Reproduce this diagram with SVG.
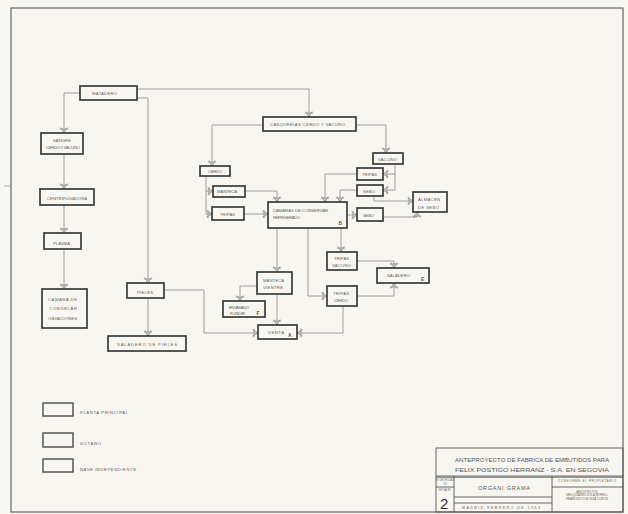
<svg xmlns="http://www.w3.org/2000/svg" width="628" height="514" viewBox="0 0 628 514">
<style>
.n{fill:none;stroke:#3a3a3a;stroke-width:1.7}
.lg{fill:none;stroke:#4a4a4a;stroke-width:1.4}
.c{fill:none;stroke:#8a8a8a;stroke-width:0.8}
.t{font-family:"Liberation Sans",Arial,sans-serif;font-size:4.2px;fill:#606060;text-anchor:start}
.L{font-family:"Liberation Sans",Arial,sans-serif;font-size:6px;fill:#555}
.tb{fill:none;stroke:#555;stroke-width:0.9}
.s{font-family:"Liberation Sans",Arial,sans-serif;font-size:3px;fill:#666}
</style>
<defs>
<marker id="a" viewBox="-7 -5 8 10" refX="0" refY="0" markerWidth="8" markerHeight="10" markerUnits="userSpaceOnUse" orient="auto">
<path d="M-5.5,-3.2 L0,0 L-5.5,3.2 M-4,-4.2 L-4,4.2" fill="none" stroke="#777" stroke-width="0.7"/>
</marker>
</defs>
<rect x="0" y="0" width="628" height="514" fill="#f8f6f1"/>
<rect x="11" y="8" width="612" height="504" fill="none" stroke="#666" stroke-width="1.2"/>
<line x1="4" y1="186" x2="11" y2="186" stroke="#999" stroke-width="0.8"/>

<g id="connectors">
<path class="c" marker-end="url(#a)" d="M80,93 H64 V133"/>
<path class="c" marker-end="url(#a)" d="M137,89 H309 V117"/>
<path class="c" marker-end="url(#a)" d="M137,98 H148 V283"/>
<path class="c" marker-end="url(#a)" d="M64,154 V189"/>
<path class="c" marker-end="url(#a)" d="M64,205 V233"/>
<path class="c" marker-end="url(#a)" d="M64,249 V289"/>
<path class="c" marker-end="url(#a)" d="M148,298 V336"/>
<path class="c" marker-end="url(#a)" d="M164,290 H204 V333 H258"/>
<path class="c" marker-end="url(#a)" d="M263,125 H212 V166"/>
<path class="c" marker-end="url(#a)" d="M356,125 H386 V153"/>
<path class="c" marker-end="url(#a)" d="M206,176 V214 H212"/>
<path class="c" marker-end="url(#a)" d="M206,191 H213"/>
<path class="c" marker-end="url(#a)" d="M245,191 H277 V202"/>
<path class="c" marker-end="url(#a)" d="M244,214 H268"/>
<path class="c" marker-end="url(#a)" d="M395,164 V190 H383"/>
<path class="c" marker-end="url(#a)" d="M395,174 H383"/>
<path class="c" marker-end="url(#a)" d="M357,174 H325 V202"/>
<path class="c" marker-end="url(#a)" d="M357,190 H340 V202"/>
<path class="c" marker-end="url(#a)" d="M374,196 V201 H413"/>
<path class="c" marker-end="url(#a)" d="M347,215 H357"/>
<path class="c" marker-end="url(#a)" d="M383,217 H417 V212"/>
<path class="c" marker-end="url(#a)" d="M277,228 V272"/>
<path class="c" marker-end="url(#a)" d="M308,228 V296 H327"/>
<path class="c" marker-end="url(#a)" d="M341,228 V252"/>
<path class="c" marker-end="url(#a)" d="M357,261 H394 V268"/>
<path class="c" marker-end="url(#a)" d="M357,296 H394 V283"/>
<path class="c" marker-end="url(#a)" d="M257,286 H240 V301"/>
<path class="c" marker-end="url(#a)" d="M277,294 V325"/>
<path class="c" marker-end="url(#a)" d="M343,306 V333 H297"/>
</g>

<g id="matadero"><rect class="n" x="80" y="86" width="57" height="14"/><text class="t" x="92" y="94.5" textLength="25" lengthAdjust="spacing">MATADERO</text></g>
<g id="sangre"><rect class="n" x="41" y="133" width="42" height="21"/><text class="t" x="53" y="141.5" textLength="18" lengthAdjust="spacing">SANGRE</text><text class="t" x="46" y="148.5" textLength="34" lengthAdjust="spacing">CERDO Y VACUNO</text></g>
<g id="centrifugadora"><rect class="n" x="40" y="189" width="54" height="16"/><text class="t" x="47" y="199.5" textLength="40" lengthAdjust="spacing">CENTRIFUGADORA</text></g>
<g id="plasma"><rect class="n" x="44" y="233" width="37" height="16"/><text class="t" x="53" y="244.5" textLength="17" lengthAdjust="spacing">PLASMA</text></g>
<g id="camara-congelar"><rect class="n" x="42" y="289" width="45" height="39"/><text class="t" x="48" y="300.5" textLength="29" lengthAdjust="spacing">CAMARA DE</text><text class="t" x="49" y="309.5" textLength="28" lengthAdjust="spacing">CONGELAR</text><text class="t" x="48" y="319.5" textLength="29" lengthAdjust="spacing">OBVACIONES</text></g>
<g id="pieles"><rect class="n" x="127" y="283" width="37" height="15"/><text class="t" x="137" y="293.5" textLength="16" lengthAdjust="spacing">PIELES</text></g>
<g id="saladero-pieles"><rect class="n" x="108" y="336" width="78" height="15"/><text class="t" x="117" y="345.5" textLength="60" lengthAdjust="spacing">SALADERO DE   PIELES</text></g>
<g id="casquerias"><rect class="n" x="263" y="117" width="93" height="14"/><text class="t" x="270" y="125.5" textLength="75" lengthAdjust="spacing">CASQUERIAS  CERDO Y VACUNO</text></g>
<g id="cerdo"><rect class="n" x="200" y="166" width="30" height="10"/><text class="t" x="208" y="172.5" textLength="14" lengthAdjust="spacing">CERDO</text></g>
<g id="vacuno"><rect class="n" x="373" y="153" width="30" height="11"/><text class="t" x="378" y="160.5" textLength="19" lengthAdjust="spacing">VACUNO</text></g>
<g id="tripas-1"><rect class="n" x="357" y="168" width="26" height="12"/><text class="t" x="362" y="175.5" textLength="15" lengthAdjust="spacing">TRIPAS</text></g>
<g id="sebo-1"><rect class="n" x="357" y="185" width="26" height="11"/><text class="t" x="363" y="192.5" textLength="12" lengthAdjust="spacing">SEBO</text></g>
<g id="manteca"><rect class="n" x="213" y="186" width="32" height="11"/><text class="t" x="217" y="193" textLength="20" lengthAdjust="spacing">MANTECA</text></g>
<g id="tripas-2"><rect class="n" x="212" y="207" width="32" height="13"/><text class="t" x="220" y="215.5" textLength="15" lengthAdjust="spacing">TRIPAS</text></g>
<g id="camaras-conservar"><rect class="n" x="268" y="202" width="79" height="26"/><text class="t" x="273" y="211.5" textLength="55" lengthAdjust="spacing">CAMARAS  DE  CONSERVAR</text><text class="t" x="273" y="218.5" textLength="27" lengthAdjust="spacing">REFRIGERADO</text><text class="t" x="338.5" y="225" style="font-size:5px;font-weight:bold">B</text></g>
<g id="sebo-2"><rect class="n" x="357" y="208" width="26" height="13"/><text class="t" x="363" y="216.5" textLength="11" lengthAdjust="spacing">SEBO</text></g>
<g id="almacen-sebo"><rect class="n" x="413" y="192" width="34" height="20"/><text class="t" x="418" y="200.5" textLength="22" lengthAdjust="spacing">ALMACEN</text><text class="t" x="418" y="209" textLength="21" lengthAdjust="spacing">DE SEBO</text></g>
<g id="tripas-vacuno"><rect class="n" x="327" y="252" width="30" height="18"/><text class="t" x="334" y="259.5" textLength="15" lengthAdjust="spacing">TRIPAS</text><text class="t" x="332" y="266.5" textLength="19" lengthAdjust="spacing">VACUNO</text></g>
<g id="saladero"><rect class="n" x="377" y="268" width="52" height="15"/><text class="t" x="387" y="277" textLength="23" lengthAdjust="spacing">SALADERO</text><text class="t" x="421" y="281" style="font-size:5px;font-weight:bold">E</text></g>
<g id="manteca-vientre"><rect class="n" x="257" y="272" width="35" height="22"/><text class="t" x="263" y="281.5" textLength="21" lengthAdjust="spacing">MANTECA</text><text class="t" x="263" y="288.5" textLength="20" lengthAdjust="spacing">VIENTRE</text></g>
<g id="tripas-cerdo"><rect class="n" x="327" y="286" width="30" height="20"/><text class="t" x="333" y="294.5" textLength="16" lengthAdjust="spacing">TRIPAS</text><text class="t" x="334" y="301.5" textLength="14" lengthAdjust="spacing">CERDO</text></g>
<g id="envasado"><rect class="n" x="223" y="301" width="42" height="16"/><text class="t" x="229" y="309" textLength="20" lengthAdjust="spacing">ENVASADO</text><text class="t" x="230" y="315" textLength="15" lengthAdjust="spacing">FUNDIR</text><text class="t" x="256.5" y="315" style="font-size:5px;font-weight:bold">F</text></g>
<g id="venta"><rect class="n" x="258" y="325" width="39" height="14"/><text class="t" x="268" y="333.5" textLength="16" lengthAdjust="spacing">VENTA</text><text class="t" x="288" y="336.5" style="font-size:5px;font-weight:bold">A</text></g>

<g id="legend">
<rect class="lg" x="43" y="403" width="30" height="13"/><text class="t" x="80" y="414" textLength="48" lengthAdjust="spacing">PLANTA  PRINCIPAL</text>
<rect class="lg" x="43" y="433" width="30" height="14"/><text class="t" x="80" y="445" textLength="21" lengthAdjust="spacing">SOTANO</text>
<rect class="lg" x="43" y="459" width="30" height="13"/><text class="t" x="80" y="471" textLength="56" lengthAdjust="spacing">NAVE  INDEPENDIENTE</text>
</g>

<g id="title-block">
<rect class="tb" x="436" y="448" width="187" height="64"/>
<line class="tb" x1="436" y1="476" x2="623" y2="476"/>
<line class="tb" x1="436" y1="477.2" x2="623" y2="477.2" stroke-width="0.5"/>
<line class="tb" x1="454" y1="476" x2="454" y2="512"/>
<line class="tb" x1="552" y1="476" x2="552" y2="512"/>
<line class="tb" x1="436" y1="487" x2="454" y2="487"/>
<line class="tb" x1="454" y1="497" x2="552" y2="497"/>
<line class="tb" x1="454" y1="503" x2="552" y2="503"/>
<line class="tb" x1="552" y1="487" x2="623" y2="487"/>
<text class="L" x="455" y="461.5" textLength="154" lengthAdjust="spacingAndGlyphs">ANTEPROYECTO DE FABRICA DE EMBUTIDOS PARA</text>
<text class="L" x="455" y="472" textLength="154" lengthAdjust="spacingAndGlyphs">FELIX POSTIGO  HERRANZ - S.A.  EN SEGOVIA</text>
<text class="L" x="478" y="490" textLength="52" lengthAdjust="spacing" style="font-size:5.5px">ORGANI GRAMA</text>
<text class="s" x="445" y="481" text-anchor="middle">Nº DE HOJAS</text>
<text class="s" x="445" y="485" text-anchor="middle">13</text>
<text class="s" x="445" y="490.5" text-anchor="middle">HOJA Nº</text>
<text x="440" y="509" style="font-family:'Liberation Sans',Arial,sans-serif;font-size:15px;fill:#333">2</text>
<text class="t" x="462" y="509" textLength="78" lengthAdjust="spacing" style="font-size:3.5px">MADRID    FEBRERO   DE      1963</text>
<text class="s" x="587" y="482" text-anchor="middle" textLength="58" lengthAdjust="spacing">CONFORME EL PROPIETARIO</text>
<text class="s" x="587" y="492.5" text-anchor="middle">ARQUITECTOS</text>
<text class="s" x="587" y="496" text-anchor="middle">MELQUIADES SOLA MORELL</text>
<text class="s" x="587" y="499.5" text-anchor="middle">FRANCISCO DE INZA CURTIS</text>
</g>
</svg>
